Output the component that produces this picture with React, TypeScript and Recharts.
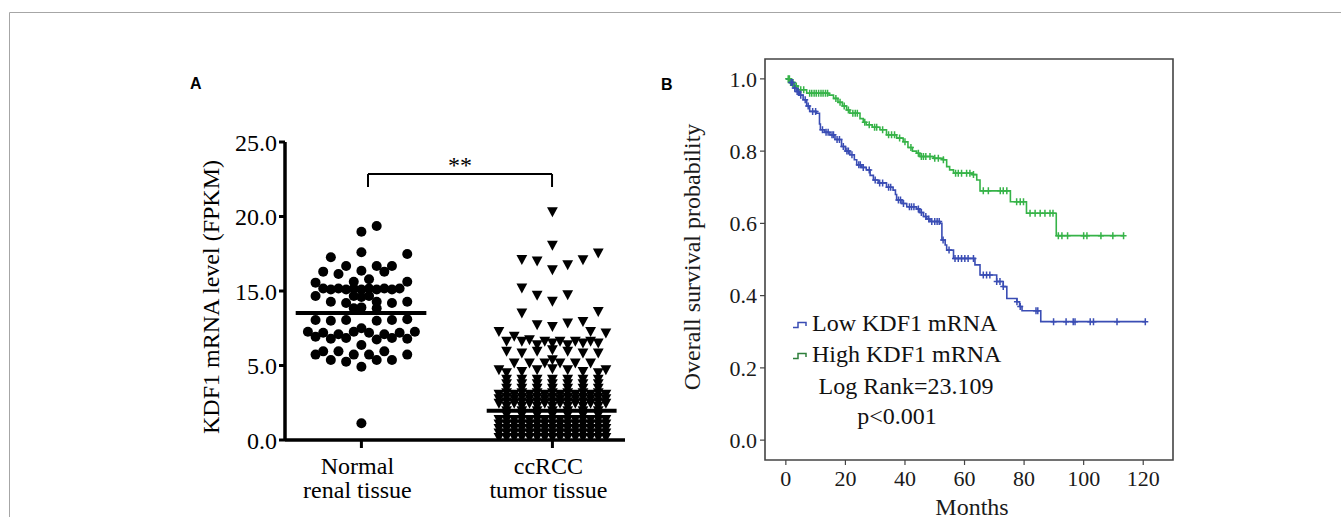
import React from "react";
import {
  ScatterChart,
  Scatter,
  ComposedChart,
  Line,
  XAxis,
  YAxis,
  ReferenceLine,
  ReferenceArea,
  Legend,
} from "recharts";

const FONT = "'Liberation Serif', 'Times New Roman', serif";

// ---------- panel A: KDF1 expression dot plot ----------
const groupCenters = [1, 3.5];
const groupTop = ["Normal", "ccRCC"];
const groupBottom = ["renal tissue", "tumor tissue"];
const yTicksA = [0, 5, 10, 15, 20];
const yLabelsA = ["0.0", "5.0", "15.0", "20.0", "25.0"];
const normalMean = 8.52;
const tumorMedian = 1.97;
const slotWidth = 0.1;

// [swarm slot, value]
const normalPoints: [number, number][] = [
  [2, 14.36], [0, 13.98], [0, 12.6], [6, 12.48], [-4, 12.26],
  [-2, 11.68], [2, 11.68], [4, 11.68],
  [-5, 11.3], [0, 11.36], [3, 11.3], [-3, 11.14],
  [1, 10.79], [-1, 10.62], [-6, 10.56], [6, 10.62],
  [-5, 10.17], [-4, 10.1], [-3, 10.17], [-2, 10.1], [-1, 10.17], [0, 10.1],
  [1, 10.17], [2, 10.1], [3, 10.17], [4, 10.1], [5, 10.17],
  [-6, 9.66], [-1, 9.66], [0, 9.6], [1, 9.66],
  [-4, 9.28], [-2, 9.2], [2, 9.28], [4, 9.2], [6, 9.28],
  [-1, 8.84], [0, 8.9], [2, 8.84],
  [-6, 8.05], [-4, 8.0], [-2, 8.05], [2, 8.0], [4, 8.05], [6, 8.1],
  [0, 7.5],
  [-7, 7.27], [-5, 7.2], [-3, 7.1], [-1, 7.27], [1, 7.2], [3, 7.1], [5, 7.2], [7, 7.27],
  [-6, 6.93], [-4, 6.8], [-2, 6.85], [2, 6.75], [4, 6.85], [6, 6.8],
  [0, 6.38],
  [-6, 5.73], [-5, 5.95], [-3, 5.95], [-1, 5.73], [1, 5.73], [3, 5.95], [6, 5.73],
  [-4, 5.37], [-2, 5.26], [2, 5.37], [4, 5.37],
  [0, 4.92],
  [0, 1.12],
];

const tumorSparse: [number, number][] = [
  [0, 15.3], [0, 13.05],
  [-4, 12.1], [-2, 12.0], [0, 11.4], [2, 11.74], [4, 12.08], [6, 12.53],
  [-4, 10.18], [-2, 9.7], [0, 9.3], [2, 9.73],
  [-4, 8.5], [6, 8.6],
  [-2, 7.72], [0, 7.6], [2, 7.83], [4, 7.94],
  [-7, 7.27], [-5, 6.94], [5, 7.27], [7, 7.16],
  [-6, 6.6], [-4, 6.6], [-3, 6.7], [-2, 6.38], [-1, 6.6], [0, 6.49], [1, 6.6],
  [2, 6.38], [3, 6.6], [4, 6.49], [5, 6.6], [6, 6.49],
  [-6, 5.93], [-4, 5.82], [-2, 5.93], [0, 6.04], [2, 5.93], [4, 5.82], [6, 5.82],
  [-5, 5.15], [-3, 5.15], [-1, 5.15], [0, 5.37], [1, 5.15], [3, 5.15], [5, 5.15],
  [-7, 4.7], [-6, 4.5], [-4, 4.58], [-2, 4.7], [0, 4.76], [2, 4.7], [4, 4.58], [6, 4.5], [7, 4.7],
];

// the dense block near zero, too packed to read one by one
const denseEvenSlots = [-6, -4, -2, 0, 2, 4, 6];
const denseEvenLevels = [0.15, 0.45, 0.75, 1.05, 1.35, 1.65, 1.95, 2.25, 2.55, 2.85, 3.15, 3.45, 3.75, 4.05];
const denseOddSlots = [-7, -5, -3, -1, 1, 3, 5, 7];
const denseOddLevels = [0.15, 0.45, 0.75, 1.05, 1.35, 2.45, 2.75, 3.05];

const toPts = (center: number, pts: [number, number][]) =>
  pts.map(([s, v]) => ({ x: center + s * slotWidth, y: v }));

const denseTumor: [number, number][] = [
  ...denseEvenSlots.flatMap((s) => denseEvenLevels.map((v) => [s, v] as [number, number])),
  ...denseOddSlots.flatMap((s) => denseOddLevels.map((v) => [s, v] as [number, number])),
];

const normalData = toPts(groupCenters[0], normalPoints);
const tumorData = toPts(groupCenters[1], [...denseTumor, ...tumorSparse]);

const Dot = (p: any) => <circle cx={p.cx} cy={p.cy} r={5} fill="#000" />;
const DownTriangle = (p: any) => (
  <path
    d={`M${p.cx - 5.4},${p.cy - 4.8}L${p.cx + 5.4},${p.cy - 4.8}L${p.cx},${p.cy + 5.2}Z`}
    fill="#000"
  />
);

const CategoryTick = (props: any) => {
  const { x, y, index } = props;
  return (
    <text x={x - 4} y={y} textAnchor="middle" fontFamily={FONT} fontSize={24} fill="#000">
      <tspan x={x - 4} dy={24}>{groupTop[index]}</tspan>
      <tspan x={x - 4} dy={24}>{groupBottom[index]}</tspan>
    </text>
  );
};

function PanelA() {
  return (
    <ScatterChart
      width={640}
      height={517}
      margin={{ top: 142, right: 15, bottom: 17, left: 225 }}
      style={{ fontFamily: FONT }}
    >
      <XAxis
        type="number"
        dataKey="x"
        domain={[0, 4.45]}
        ticks={groupCenters}
        allowDataOverflow
        height={60}
        tickSize={8}
        axisLine={{ stroke: "#000", strokeWidth: 3.5 }}
        tickLine={{ stroke: "#000", strokeWidth: 3 }}
        tick={<CategoryTick />}
      />
      <YAxis
        type="number"
        dataKey="y"
        domain={[0, 20]}
        ticks={yTicksA}
        allowDataOverflow
        width={60}
        tickSize={6}
        tickMargin={2}
        tickFormatter={(v: number) => yLabelsA[yTicksA.indexOf(v)]}
        axisLine={{ stroke: "#000", strokeWidth: 3.5 }}
        tickLine={{ stroke: "#000", strokeWidth: 3 }}
        tick={{ fontFamily: FONT, fontSize: 24, fill: "#000" }}
      />
      <Scatter data={normalData} shape={Dot} isAnimationActive={false} />
      <Scatter data={tumorData} shape={DownTriangle} isAnimationActive={false} />
      <ReferenceLine
        segment={[{ x: 1 - 0.86, y: normalMean }, { x: 1 + 0.85, y: normalMean }]}
        stroke="#000"
        strokeWidth={4}
        ifOverflow="visible"
      />
      <ReferenceLine
        segment={[{ x: 3.5 - 0.86, y: tumorMedian }, { x: 3.5 + 0.84, y: tumorMedian }]}
        stroke="#000"
        strokeWidth={4}
        ifOverflow="visible"
      />
      <ReferenceLine
        segment={[{ x: 1.086, y: 16.98 }, { x: 1.086, y: 17.85 }]}
        stroke="#000"
        strokeWidth={2}
        ifOverflow="visible"
      />
      <ReferenceLine
        segment={[{ x: 3.495, y: 16.98 }, { x: 3.495, y: 17.85 }]}
        stroke="#000"
        strokeWidth={2}
        ifOverflow="visible"
      />
      <ReferenceLine
        segment={[{ x: 1.086, y: 17.85 }, { x: 3.495, y: 17.85 }]}
        stroke="#000"
        strokeWidth={2}
        ifOverflow="visible"
        label={{ value: "**", position: "top", offset: 1, fontFamily: FONT, fontSize: 24, fill: "#000" }}
      />
    </ScatterChart>
  );
}

// ---------- panel B: Kaplan-Meier overall survival ----------
const monthTicks = [0, 20, 40, 60, 80, 100, 120];
const survTicks = [0, 0.2, 0.4, 0.6, 0.8, 1.0];
const LOW = "#3a4db4";
const HIGH = "#36b348";
const legendIconColors = ["#3a4db4", "#2f7f3c"];

// [months, survival] at each event
const lowSteps: [number, number][] = [
  [0, 1.0], [1.3, 0.99], [2.5, 0.975], [3.5, 0.965], [4.5, 0.955], [5.8, 0.942],
  [7, 0.925], [8, 0.91], [10.3, 0.905], [11.3, 0.875], [11.6, 0.859], [13, 0.852],
  [14.8, 0.845], [16.5, 0.832], [18.7, 0.813], [20, 0.8], [21.5, 0.79], [23, 0.776],
  [23.8, 0.762], [25.5, 0.755], [27, 0.748], [28.3, 0.733], [29.4, 0.72], [31, 0.712],
  [33.8, 0.7], [36, 0.692], [36.8, 0.68], [37.2, 0.665], [39, 0.655], [40.6, 0.646],
  [43.9, 0.64], [45, 0.63], [46.2, 0.619], [47.3, 0.612], [48.4, 0.605], [51.8, 0.6],
  [52.4, 0.554], [53.5, 0.54], [54, 0.526], [56.3, 0.503], [63.5, 0.485], [65.2, 0.457],
  [70.8, 0.439], [73, 0.425], [74.2, 0.392], [77.6, 0.383], [78.5, 0.37], [79.3, 0.358],
  [85.6, 0.328], [120.7, 0.328],
];

const highSteps: [number, number][] = [
  [0, 1.0], [1.5, 0.99], [2.5, 0.98], [4.1, 0.97], [7, 0.96], [14.5, 0.955],
  [16, 0.946], [17.5, 0.935], [19, 0.925], [20.4, 0.914], [21.5, 0.905], [24.9, 0.89],
  [26, 0.88], [27, 0.873], [29, 0.866], [31.6, 0.859], [33.8, 0.845], [37.2, 0.836],
  [39.4, 0.826], [41, 0.81], [42.5, 0.8], [43.9, 0.794], [45, 0.785], [49.6, 0.78],
  [52.9, 0.776], [54, 0.757], [55, 0.748], [56.3, 0.739], [62.6, 0.735], [64.1, 0.72],
  [65.2, 0.69], [75.4, 0.66], [80.8, 0.628], [90.8, 0.566], [113.4, 0.566],
];

// censoring times (months)
const lowCensor = [
  1.8, 2.2, 3, 3.8, 4.2, 5, 6.5, 7.5, 9, 10, 12.3, 13.5, 14.2, 15.5, 16, 17.2, 18,
  19.3, 20.5, 21, 22.2, 24.5, 25, 26, 28, 30, 31.5, 32.5, 34.5, 35.2, 37.8, 38.5,
  39.5, 41.5, 42.2, 43, 44.5, 45.5, 47, 48, 49, 50, 50.8, 51.5, 52.8, 54.8, 56.8,
  57.9, 59, 60.1, 61.2, 63, 66.3, 67.4, 68.5, 70.8, 71.9, 73, 77.6, 78.7, 84, 84.6,
  89.9, 94.1, 96.5, 97.1, 102.2, 103.3, 111.2, 120.7,
];
const highCensor = [
  0.8, 1.2, 1.6, 2, 2.4, 3, 3.5, 5, 6, 8, 8.7, 9.5, 10.2, 11, 11.8, 12.5, 13.3, 14,
  16.8, 18.2, 19.6, 21, 22.5, 23.3, 24, 26.5, 28, 29.8, 30.5, 32.5, 34.5, 35.5, 36.5,
  38.2, 40, 42, 44.5, 45.5, 46.2, 47, 48.4, 50, 51.2, 52.9, 57, 57.9, 59, 60.7, 61.8,
  63, 66.3, 68, 72, 73, 74.2, 77.5, 78.7, 79.8, 82, 83.7, 85.4, 87, 88.7, 89.7, 91.5,
  92.7, 94.6, 100, 101.1, 105.8, 109.8, 113.4,
];

const survivalAt = (steps: [number, number][], t: number) => {
  let s = steps[0][1];
  for (const [st, sv] of steps) if (st <= t) s = sv;
  return s;
};

const lowLine = lowSteps.map(([t, s]) => ({ t, s }));
const highLine = highSteps.map(([t, s]) => ({ t, s }));
const lowMarks = lowCensor.map((t) => ({ t, s: survivalAt(lowSteps, t) }));
const highMarks = highCensor.map((t) => ({ t, s: survivalAt(highSteps, t) }));

const censorShape = (color: string) => (p: any) => (
  <path
    d={`M${p.cx - 3},${p.cy}H${p.cx + 3}M${p.cx},${p.cy - 3.5}V${p.cy + 3.5}`}
    stroke={color}
    strokeWidth={1.5}
    fill="none"
  />
);

const KmLegend = (props: any) => {
  const items = props.payload || [];
  const rowTops = [308, 339];
  return (
    <div style={{ position: "relative", width: 701, height: 517, fontFamily: FONT, fontSize: 24, color: "#111" }}>
      {items.map((e: any, i: number) => (
        <div
          key={e.value}
          style={{ position: "absolute", left: 153, top: rowTops[i], height: 31, lineHeight: "31px", whiteSpace: "nowrap" }}
        >
          <svg width={15} height={8} style={{ position: "absolute", left: 0, top: 13 }}>
            <path d="M0,6.5H5V1.5H13V5" stroke={legendIconColors[i]} strokeWidth={1.5} fill="none" />
          </svg>
          <span style={{ position: "absolute", left: 19 }}>{e.value}</span>
        </div>
      ))}
      <div style={{ position: "absolute", left: 266, top: 371, lineHeight: "31px", transform: "translateX(-50%)", whiteSpace: "nowrap" }}>
        Log Rank=23.109
      </div>
      <div style={{ position: "absolute", left: 257, top: 401, lineHeight: "31px", transform: "translateX(-50%)", whiteSpace: "nowrap" }}>
        p&lt;0.001
      </div>
    </div>
  );
};

function PanelB() {
  return (
    <ComposedChart
      width={701}
      height={517}
      margin={{ top: 59, right: 168, bottom: 17, left: 55 }}
      style={{ fontFamily: FONT }}
    >
      <XAxis
        type="number"
        dataKey="t"
        domain={[-7, 130]}
        ticks={monthTicks}
        allowDataOverflow
        height={40}
        tickSize={5}
        tickMargin={5}
        axisLine={false}
        tickLine={{ stroke: "#444", strokeWidth: 1.2 }}
        tick={{ fontFamily: FONT, fontSize: 22, fill: "#1a1a1a" }}
      />
      <YAxis
        type="number"
        dataKey="s"
        domain={[-0.055, 1.055]}
        ticks={survTicks}
        allowDataOverflow
        width={70}
        tickSize={5}
        tickMargin={3}
        axisLine={false}
        tickFormatter={(v: number) => v.toFixed(1)}
        tickLine={{ stroke: "#444", strokeWidth: 1.2 }}
        tick={{ fontFamily: FONT, fontSize: 22, fill: "#1a1a1a" }}
      />
      <ReferenceArea x1={-7} x2={130} y1={-0.055} y2={1.055} fill="none" stroke="#444" strokeWidth={1.6} fillOpacity={0} />
      <Line data={highLine} dataKey="s" name="High KDF1 mRNA" type="stepAfter" stroke={HIGH} strokeWidth={1.6} dot={false} isAnimationActive={false} />
      <Line data={lowLine} dataKey="s" name="Low KDF1 mRNA" type="stepAfter" stroke={LOW} strokeWidth={1.6} dot={false} isAnimationActive={false} />
      <Scatter data={highMarks} shape={censorShape(HIGH)} legendType="none" isAnimationActive={false} />
      <Scatter data={lowMarks} shape={censorShape(LOW)} legendType="none" isAnimationActive={false} />
      <Legend
        layout="horizontal"
        verticalAlign="middle"
        align="center"
        wrapperStyle={{ position: "absolute", left: 0, top: 0, width: 701, height: 517, pointerEvents: "none" }}
        content={(p: any) => (
          <KmLegend
            payload={[...(p.payload || [])]
              .filter((e: any) => e.type !== "none")
              .sort((a: any) => (a.value.startsWith("Low") ? -1 : 1))}
          />
        )}
      />
    </ComposedChart>
  );
}

export default function App() {
  return (
    <div style={{ position: "absolute", left: 0, top: 0, width: 1341, height: 517, background: "#fff", overflow: "hidden" }}>
      <div style={{ position: "absolute", left: 0, top: 0 }}>
        <PanelA />
      </div>
      <div style={{ position: "absolute", left: 640, top: 0 }}>
        <PanelB />
      </div>
      <svg width={1341} height={517} style={{ position: "absolute", left: 0, top: 0, pointerEvents: "none" }}>
        <path d="M9.5,517V12.5H1341" stroke="#a6a6a6" strokeWidth={1} fill="none" />
        <text x={190} y={89} fontFamily="'Liberation Sans', Arial, sans-serif" fontWeight="bold" fontSize={16} fill="#000">A</text>
        <text x={661} y={90} fontFamily="'Liberation Sans', Arial, sans-serif" fontWeight="bold" fontSize={16} fill="#000">B</text>
        <text transform="translate(219,297) rotate(-90)" textAnchor="middle" fontFamily={FONT} fontSize={24} fill="#000">
          KDF1 mRNA level (FPKM)
        </text>
        <text transform="translate(700,257) rotate(-90)" textAnchor="middle" fontFamily={FONT} fontSize={24} fill="#1a1a1a">
          Overall survival probability
        </text>
        <text x={972} y={515} textAnchor="middle" fontFamily={FONT} fontSize={24} fill="#1a1a1a">
          Months
        </text>
      </svg>
    </div>
  );
}
